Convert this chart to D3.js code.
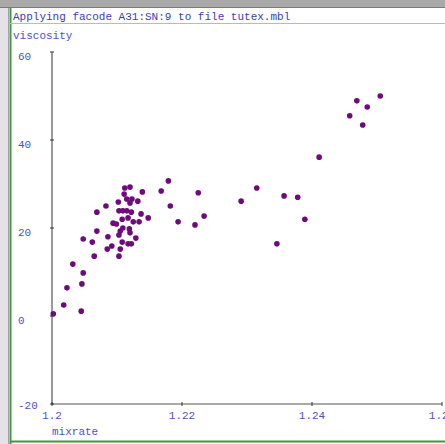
<!DOCTYPE html>
<html>
<head>
<meta charset="utf-8">
<script src="https://cdn.jsdelivr.net/npm/d3@7"></script>
<style>
  body { margin: 0; background: #fff; }
  text { font-family: "Liberation Mono", "DejaVu Sans Mono", monospace; fill: #5050c8; }
</style>
</head>
<body>
<div id="chart"></div>
<script>
// mixrate vs viscosity
var mixrate = [1.2112, 1.2120, 1.2139, 1.2179, 1.2168, 1.2225, 1.2083, 1.2102, 1.2111, 1.2115,
               1.2123, 1.2120, 1.2132, 1.2182, 1.2069, 1.2103, 1.2109, 1.2115, 1.2122, 1.2137,
               1.2148, 1.2108, 1.2117, 1.2125, 1.2134, 1.2094, 1.2099, 1.2194, 1.2220, 1.2109,
               1.2105, 1.2119, 1.2069, 1.2120, 1.2103, 1.2129, 1.2048, 1.2062, 1.2086, 1.2108,
               1.2092, 1.2085, 1.2105, 1.2117, 1.2122, 1.2065, 1.2103, 1.2032, 1.2048, 1.2046,
               1.2023, 1.2018, 1.2045, 1.2002,
               1.2469, 1.2505, 1.2485, 1.2458, 1.2478, 1.2411, 1.2315, 1.2291, 1.2357, 1.2378,
               1.2234, 1.2389, 1.2346]
var viscosity = [29.1, 29.3, 28.2, 30.7, 28.4, 28.0, 25.0, 25.9, 27.7, 26.6,
                 26.6, 25.7, 26.1, 25.0, 23.6, 23.9, 23.9, 23.9, 23.6, 23.2,
                 22.3, 22.0, 22.3, 21.4, 21.4, 21.1, 20.9, 21.4, 20.7, 20.0,
                 19.3, 19.8, 19.3, 18.9, 18.4, 17.7, 17.5, 16.8, 18.0, 16.8,
                 15.9, 15.2, 15.2, 16.4, 16.4, 13.6, 13.6, 11.8, 9.8, 7.3,
                 6.4, 2.5, 1.1, 0.5,
                 48.9, 50.0, 47.5, 45.5, 43.4, 36.1, 29.1, 26.1, 27.3, 27.0,
                 22.7, 22.0, 16.4]
var xTicks = [1.2, 1.22, 1.24, 1.26]
var yTicks = [60, 40, 20, 0, -20]
var title = "Applying facode A31:SN:9 to file tutex.mbl"

var W = 445, H = 444

var svg = d3.select("#chart").append("svg")
    .attr("width", W).attr("height", H)

// window frame
svg.append("rect").attr("x", 0).attr("y", 0).attr("width", W).attr("height", 8).attr("fill", "#a9a9a9")
svg.append("line").attr("x1", 0).attr("x2", W).attr("y1", 7.5).attr("y2", 7.5).attr("stroke", "#7a7a7a")
svg.append("rect").attr("x", 0).attr("y", 8).attr("width", 9).attr("height", H - 8).attr("fill", "#e4e2e6")
svg.append("line").attr("x1", 8.5).attr("x2", 8.5).attr("y1", 8).attr("y2", H).attr("stroke", "#a59fb0")
svg.append("line").attr("x1", 10.5).attr("x2", 10.5).attr("y1", 8).attr("y2", H).attr("stroke", "#3f9a3f").attr("stroke-width", 2)
svg.append("line").attr("x1", 10).attr("x2", W).attr("y1", 23.5).attr("y2", 23.5).attr("stroke", "#8fd88f")
svg.append("line").attr("x1", 10).attr("x2", W).attr("y1", 441.5).attr("y2", 441.5).attr("stroke", "#3f9a3f").attr("stroke-width", 2)

svg.append("text").attr("x", 13).attr("y", 20).attr("font-size", 11).style("fill", "#3c3cb4").text(title)
svg.append("text").attr("x", 13).attr("y", 39).attr("font-size", 11).text("viscosity")
svg.append("text").attr("x", 52).attr("y", 435).attr("font-size", 11).text("mixrate")

var x = d3.scaleLinear().domain([1.2, 1.26]).range([52, 442])
var y = d3.scaleLinear().domain([-20, 60]).range([404, 52])

// axes
svg.append("line").attr("x1", x(1.2)).attr("x2", x(1.2)).attr("y1", y(-20)).attr("y2", y(60))
  .attr("stroke", "#555").attr("stroke-width", 1.2)
svg.append("line").attr("x1", x(1.2)).attr("x2", x(1.26)).attr("y1", y(-20)).attr("y2", y(-20))
  .attr("stroke", "#555").attr("stroke-width", 1.2)

svg.selectAll(".ytick").data(yTicks).enter().append("line")
  .attr("x1", x(1.2) - 2).attr("x2", x(1.2) + 2)
  .attr("y1", function(d) { return y(d); }).attr("y2", function(d) { return y(d); })
  .attr("stroke", "#333")
svg.selectAll(".xtick").data(xTicks).enter().append("line")
  .attr("x1", function(d) { return x(d); }).attr("x2", function(d) { return x(d); })
  .attr("y1", y(-20) - 2).attr("y2", y(-20) + 2)
  .attr("stroke", "#333")

svg.selectAll(".ylab").data(yTicks).enter().append("text")
  .attr("x", 18)
  .attr("y", function(d) { return y(d) + (d == -20 ? 5 : 8); })
  .attr("font-size", 11)
  .text(function(d) { return d; })
svg.selectAll(".xlab").data(xTicks).enter().append("text")
  .attr("x", function(d) { return x(d); })
  .attr("y", 419)
  .attr("text-anchor", "middle")
  .attr("font-size", 11)
  .text(function(d) { return d; })

// points
svg.selectAll(".pt").data(mixrate).enter().append("circle")
  .attr("cx", function(d) { return x(d); })
  .attr("cy", function(d, i) { return y(viscosity[i]); })
  .attr("r", 2.8)
  .attr("fill", "#6e0a7c")
</script>
</body>
</html>
